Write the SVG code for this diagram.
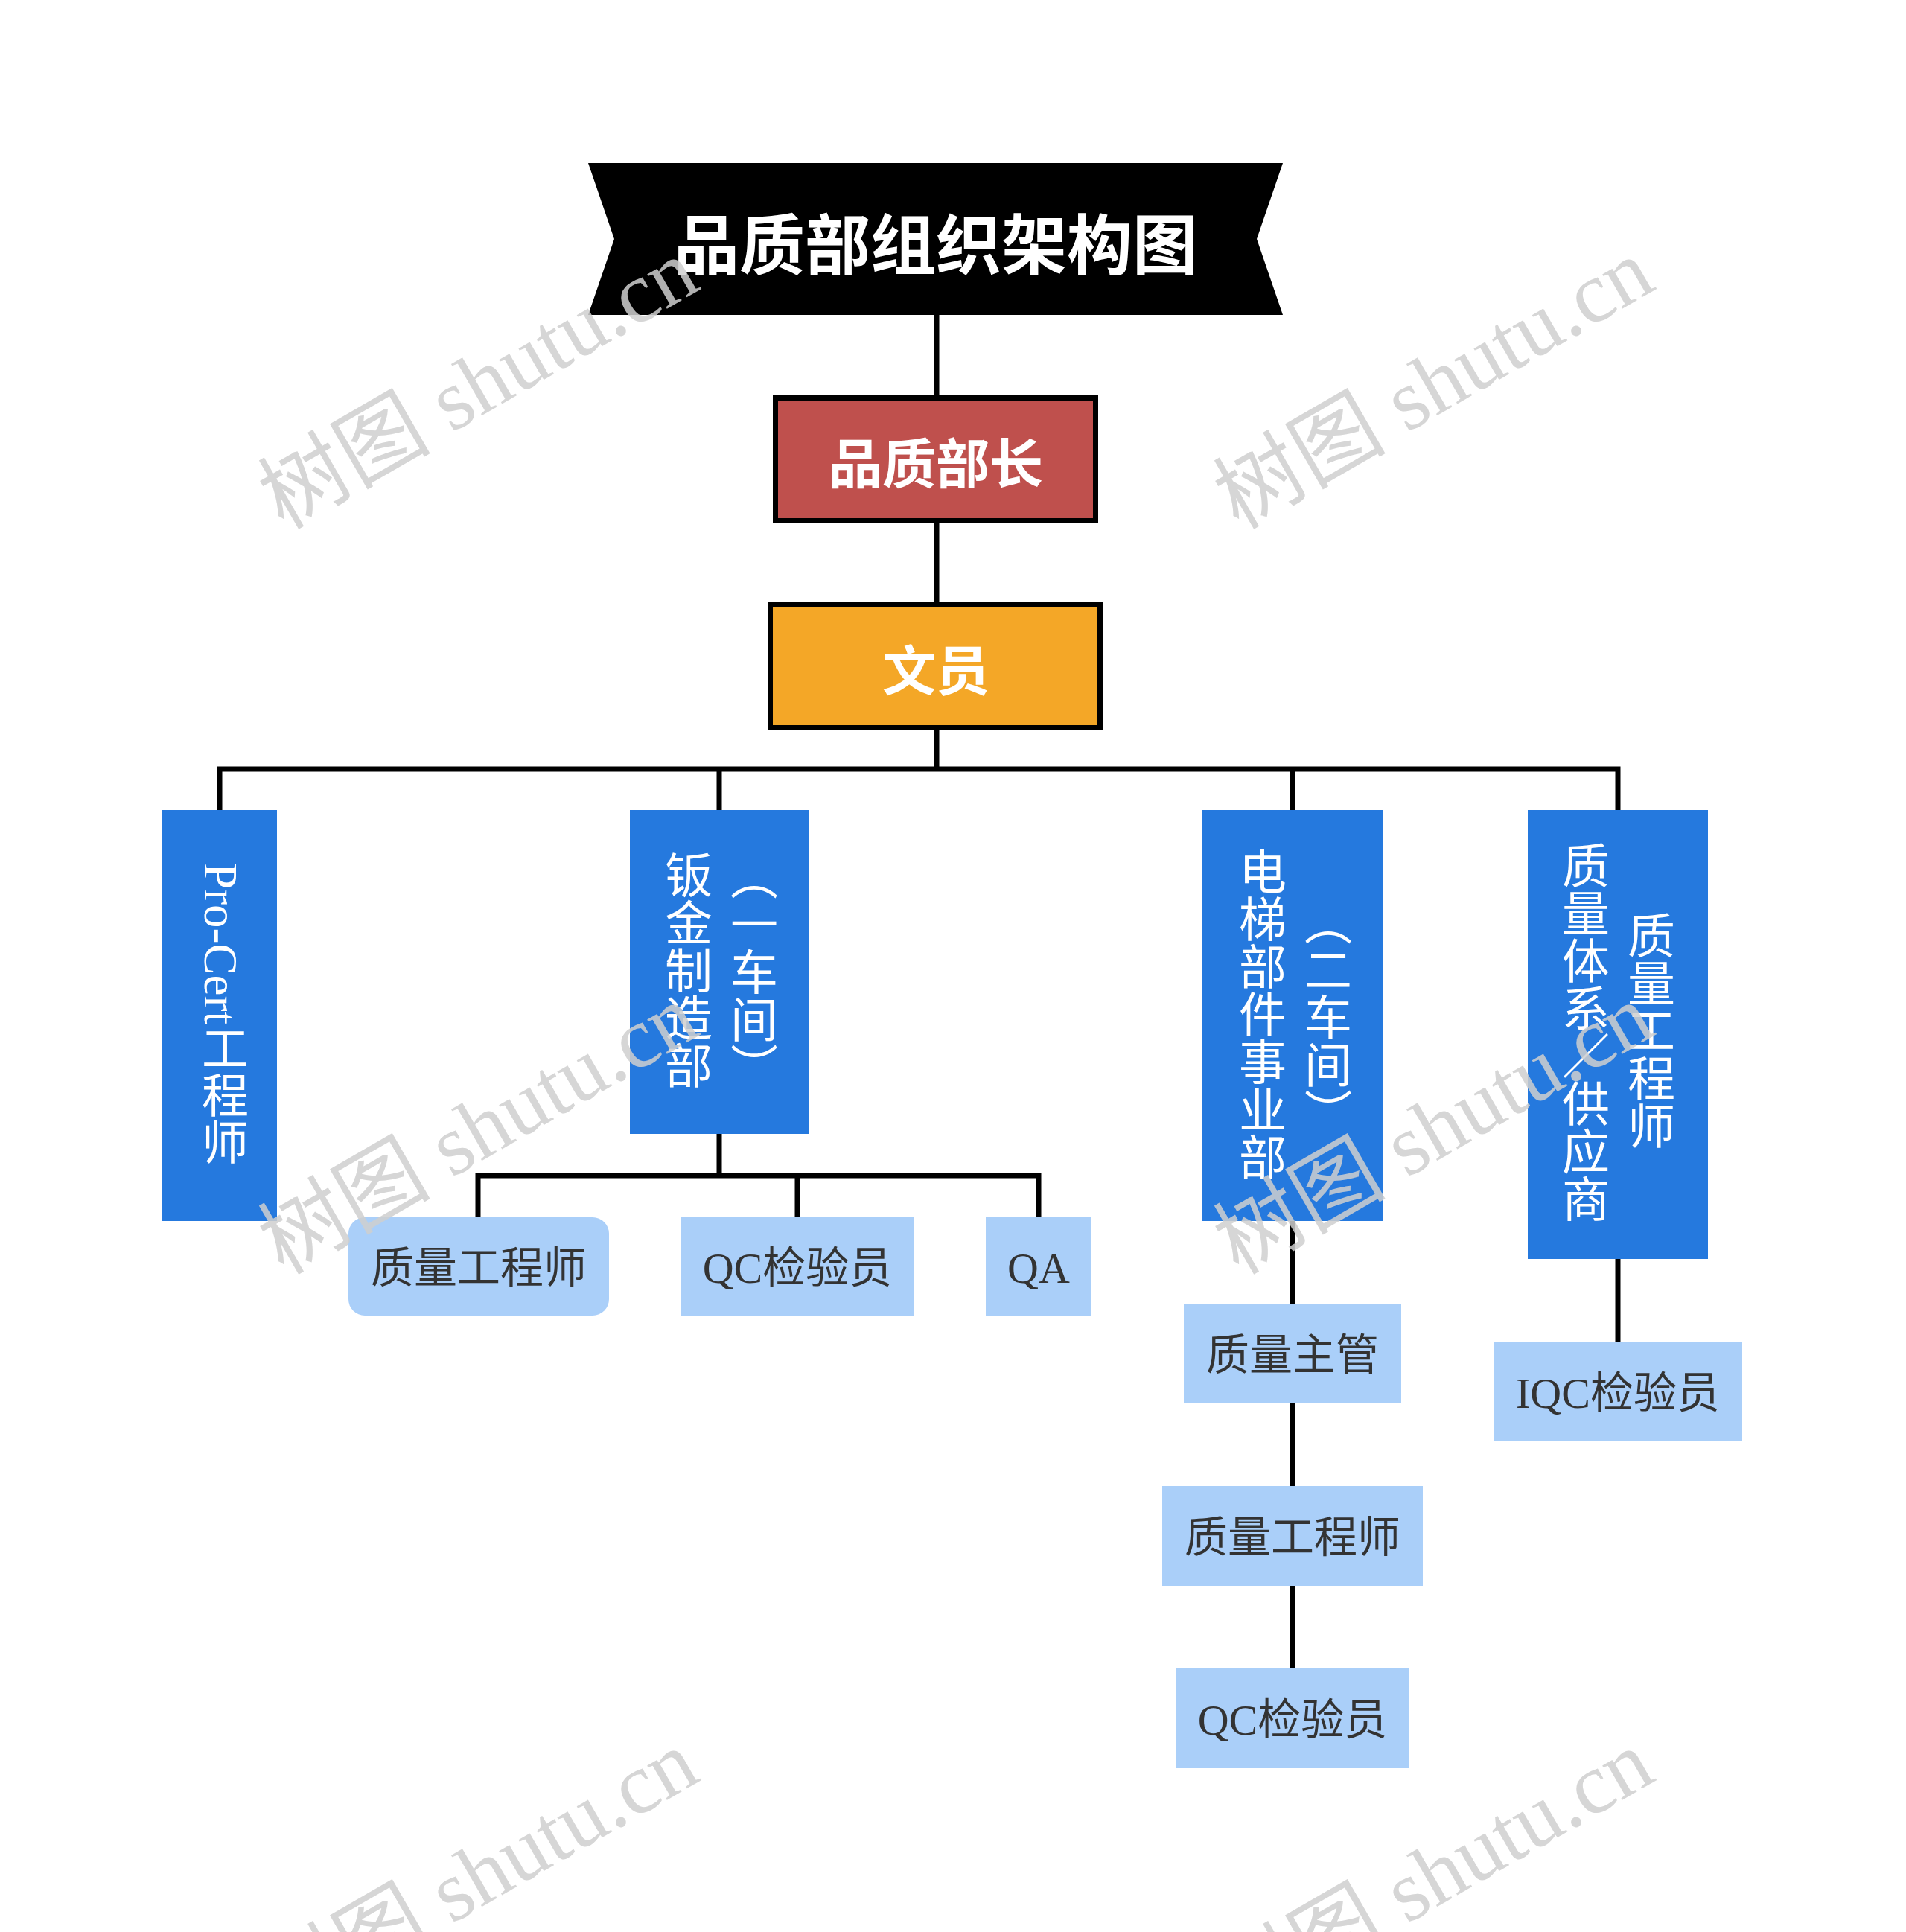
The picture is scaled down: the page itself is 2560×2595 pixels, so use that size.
<svg xmlns="http://www.w3.org/2000/svg" width="2560" height="2595" viewBox="0 0 2560 2595">
<style>
.conn{fill:none;stroke:#000;stroke-width:7;stroke-linecap:square}
.head{font-family:"Noto Sans CJK SC","Noto Sans",sans-serif;font-weight:bold;fill:#fff;text-anchor:middle;dominant-baseline:central}
.blue{fill:#2579DE}
.vt{font-family:"Noto Sans CJK SC","Noto Sans",sans-serif;font-size:64px;fill:#fff;writing-mode:vertical-lr;text-anchor:middle}
.leaf{fill:#AACFF9}
.lt{font-family:"Liberation Serif","Noto Sans CJK SC",serif;font-size:58px;fill:#333;text-anchor:middle;dominant-baseline:central}
.wm{font-family:"Liberation Serif","Noto Sans CJK SC",serif;font-size:116px;fill:#cfcfcf;opacity:0.85;text-anchor:middle}
</style>
<rect width="2560" height="2595" fill="#fff"/>
<g id="connectors">
<path class="conn" d="M1258 422V534M1258 703V808M1258 981V1033M295 1033H2173M295 1033V1088M966 1033V1088M1736 1033V1088M2173 1033V1088"/>
<path class="conn" d="M966 1523V1579M642 1579H1395M642 1579V1635M1071 1579V1635M1395 1579V1635"/>
<path class="conn" d="M1736 1640V1751M1736 1885V1996M1736 2130V2241"/>
<path class="conn" d="M2173 1691V1802"/>
</g>
<g id="title">
<polygon points="790,219 1723,219 1688,321 1723,423 790,423 825,321" fill="#000"/>
<text class="head" x="1257" y="322" font-size="88">品质部组织架构图</text>
</g>
<g id="n-minister">
<rect x="1041.5" y="534.5" width="430" height="165" fill="#BF504D" stroke="#000" stroke-width="7"/>
<text class="head" x="1257" y="617" font-size="72">品质部长</text>
</g>
<g id="n-clerk">
<rect x="1034.5" y="811.5" width="443" height="166" fill="#F4A727" stroke="#000" stroke-width="7"/>
<text class="head" x="1257" y="895" font-size="72">文员</text>
</g>
<g id="n-procert">
<rect class="blue" x="218" y="1088" width="154" height="552"/>
<text class="vt" x="296" y="1362" style="font-family:'Liberation Serif','Noto Sans CJK SC',serif;font-size:63px">Pro-Cert工程师</text>
</g>
<g id="n-sheetmetal">
<rect class="blue" x="846" y="1088" width="240" height="435"/>
<text class="vt" x="925" y="1303">钣金制造部</text>
<text class="vt" x="1013" y="1305">（一车间）</text>
</g>
<g id="n-elevator">
<rect class="blue" x="1615" y="1088" width="242" height="552"/>
<text class="vt" x="1696" y="1362">电梯部件事业部</text>
<text class="vt" x="1784" y="1366">（二车间）</text>
</g>
<g id="n-system">
<rect class="blue" x="2052" y="1088" width="242" height="603"/>
<text class="vt" x="2130" y="1386">质量体系／供应商</text>
<text class="vt" x="2218" y="1384">质量工程师</text>
</g>
<g id="n-qe1">
<rect class="leaf" x="468" y="1635" width="350" height="132" rx="22"/>
<text class="lt" x="643" y="1703">质量工程师</text>
</g>
<g id="n-qc1">
<rect class="leaf" x="914" y="1635" width="314" height="132"/>
<text class="lt" x="1071" y="1703">QC检验员</text>
</g>
<g id="n-qa">
<rect class="leaf" x="1324" y="1635" width="142" height="132"/>
<text class="lt" x="1395" y="1703">QA</text>
</g>
<g id="n-qsup">
<rect class="leaf" x="1590" y="1751" width="292" height="134"/>
<text class="lt" x="1736" y="1820">质量主管</text>
</g>
<g id="n-qe2">
<rect class="leaf" x="1561" y="1996" width="350" height="134"/>
<text class="lt" x="1736" y="2065">质量工程师</text>
</g>
<g id="n-qc2">
<rect class="leaf" x="1579" y="2241" width="314" height="134"/>
<text class="lt" x="1736" y="2310">QC检验员</text>
</g>
<g id="n-iqc">
<rect class="leaf" x="2006" y="1802" width="334" height="134"/>
<text class="lt" x="2173" y="1871">IQC检验员</text>
</g>
<g id="watermarks">
<text class="wm" transform="translate(642,515) rotate(-30)" x="0" y="40">树图 shutu.cn</text>
<text class="wm" transform="translate(1925,515) rotate(-30)" x="0" y="40">树图 shutu.cn</text>
<text class="wm" transform="translate(642,1516) rotate(-30)" x="0" y="40">树图 shutu.cn</text>
<text class="wm" transform="translate(1925,1516) rotate(-30)" x="0" y="40">树图 shutu.cn</text>
<text class="wm" transform="translate(642,2518) rotate(-30)" x="0" y="40">树图 shutu.cn</text>
<text class="wm" transform="translate(1925,2518) rotate(-30)" x="0" y="40">树图 shutu.cn</text>
</g>
</svg>
